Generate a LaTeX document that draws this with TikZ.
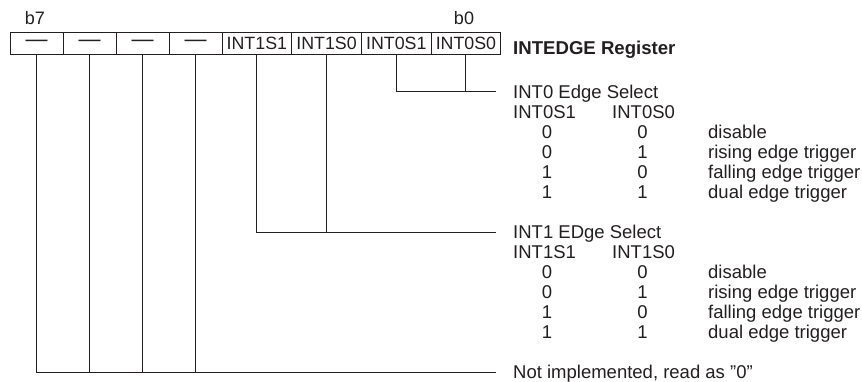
\documentclass[tikz,border=0pt]{standalone}
\usepackage{fontspec}
\setmainfont{Liberation Sans}
\definecolor{ink}{HTML}{231F20}
\begin{document}
\begin{tikzpicture}[x=1pt,y=-1pt,
  cell/.style={draw=ink, line width=1pt, minimum height=22pt, inner sep=0pt, text=ink, font=\fontsize{17.8}{20}\selectfont},
  dashcell/.style={cell, minimum width=53pt, font=\fontsize{22}{22}\selectfont},
  intcell/.style={cell, minimum width=69.7pt},
  lbl/.style={anchor=base west, inner sep=0pt, text=ink, font=\fontsize{18.5}{20}\selectfont},
  num/.style={anchor=base, inner sep=0pt, text=ink, font=\fontsize{18.5}{20}\selectfont},
  bitlbl/.style={anchor=base, inner sep=0pt, text=ink, font=\fontsize{18}{20}\selectfont},
  wire/.style={draw=ink, line width=1pt}]
\useasboundingbox (0,0) rectangle (862,381);

% register cells
\node[dashcell] (c7) at (36.5,43) {—};
\node[dashcell] (c6) at (89.5,43) {—};
\node[dashcell] (c5) at (142.5,43) {—};
\node[dashcell] (c4) at (195.5,43) {—};
\node[intcell] (c3) at (256.85,43) {INT1S1};
\node[intcell] (c2) at (326.55,43) {INT1S0};
\node[intcell] (c1) at (396.25,43) {INT0S1};
\node[intcell] (c0) at (465.95,43) {INT0S0};

\node[bitlbl] (b7) at (35,24) {b7};
\node[bitlbl] (b0) at (464,24) {b0};
\node[anchor=base west, inner sep=0pt, text=ink, font=\fontsize{18.6}{20}\selectfont\bfseries] (reg) at (513,54) {INTEDGE Register};

% INT0 section
\coordinate (e0) at (496,91.5);
\node[lbl] (t0) at (513,98) {INT0 Edge Select};
\node[lbl] (h0a) at (513,118) {INT0S1};
\node[lbl] (h0b) at (612,118) {INT0S0};
\foreach \a/\b/\d [count=\i] in {0/0/disable,0/1/rising edge trigger,1/0/falling edge trigger,1/1/dual edge trigger}{
  \node[num] (p0a\i) at (547,{118+20*\i}) {\a};
  \node[num] (p0b\i) at (642.5,{118+20*\i}) {\b};
  \node[lbl] (p0d\i) at (708,{118+20*\i}) {\d};
}

% INT1 section
\coordinate (e1) at (496,232);
\node[lbl] (t1) at (513,238) {INT1 EDge Select};
\node[lbl] (h1a) at (513,258) {INT1S1};
\node[lbl] (h1b) at (612,258) {INT1S0};
\foreach \a/\b/\d [count=\i] in {0/0/disable,0/1/rising edge trigger,1/0/falling edge trigger,1/1/dual edge trigger}{
  \node[num] (p1a\i) at (547,{258+20*\i}) {\a};
  \node[num] (p1b\i) at (642.5,{258+20*\i}) {\b};
  \node[lbl] (p1d\i) at (708,{258+20*\i}) {\d};
}

% not implemented
\coordinate (e2) at (496,372.5);
\node[lbl] (t2) at (513,378) {Not implemented, read as \char"22 0\char"22};

% connectors
\draw[wire] (c1.south) |- (e0);
\draw[wire] (c0.south) -- (c0.south |- e0);
\draw[wire] (c3.south) |- (e1);
\draw[wire] (c2.south) -- (c2.south |- e1);
\draw[wire] (c7.south) |- (e2);
\draw[wire] (c6.south) -- (c6.south |- e2);
\draw[wire] (c5.south) -- (c5.south |- e2);
\draw[wire] (c4.south) -- (c4.south |- e2);
\end{tikzpicture}
\end{document}
